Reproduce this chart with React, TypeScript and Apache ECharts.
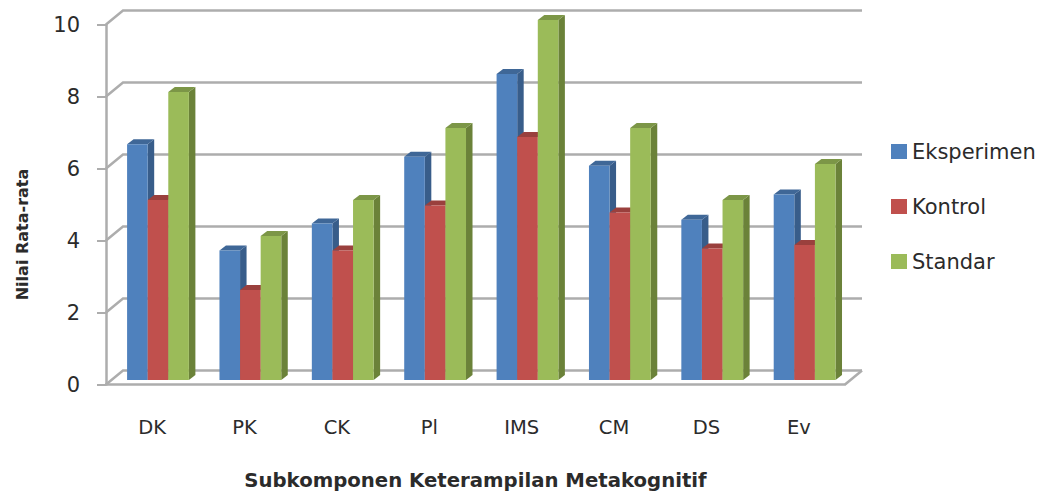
import React, { useEffect, useRef } from "react";
import * as echarts from "echarts";

const categories = ["DK", "PK", "CK", "Pl", "IMS", "CM", "DS", "Ev"];
const eksperimen = [6.55, 3.6, 4.35, 6.2, 8.5, 5.95, 4.45, 5.15];
const kontrol = [5.0, 2.5, 3.6, 4.85, 6.75, 4.65, 3.65, 3.75];
const standar = [8, 4, 5, 7, 10, 7, 5, 6];
const ticks = [0, 2, 4, 6, 8, 10];

const seriesNames = ["Eksperimen", "Kontrol", "Standar"];
const seriesValues = [eksperimen, kontrol, standar];
const frontColors = ["#4F81BD", "#C0504D", "#9BBB59"];
const sideColors = ["#385D8A", "#8C3A38", "#6B8239"];
const topColors = ["#3F6797", "#9A403D", "#7C9647"];

const FONT = "'DejaVu Sans', sans-serif";
const TEXT_COLOR = "#2B2B2B";
const GRID_COLOR = "#ADADAD";
const WALL_DX = 17;
const WALL_DY = -14;
const BAR_DX = 6.5;
const BAR_DY = -5;
const BAR_SHIFT_X = 5.8;
const BAR_SHIFT_Y = -4.5;
const BAR_RATIO = 0.223;

export default function App() {
  const ref = useRef<HTMLDivElement>(null);
  useEffect(() => {
    const chart = echarts.init(ref.current!, undefined, { renderer: "svg" });

    const wall = {
      type: "custom",
      silent: true,
      z: 1,
      data: ticks.map((t) => [0, t]),
      encode: { x: 0, y: 1 },
      renderItem: (params: any, api: any) => {
        const y = api.coord([0, api.value(1)])[1];
        const left = params.coordSys.x;
        const right = left + params.coordSys.width;
        const children: any[] = [
          {
            type: "polyline",
            shape: { points: [[left, y], [left + WALL_DX, y + WALL_DY], [right + WALL_DX, y + WALL_DY]] },
            style: { stroke: GRID_COLOR, lineWidth: 2.5, fill: "none" },
          },
        ];
        if (api.value(1) === 0) {
          children.push({
            type: "line",
            shape: { x1: right, y1: y, x2: right + WALL_DX, y2: y + WALL_DY },
            style: { stroke: GRID_COLOR, lineWidth: 2.5 },
          });
        }
        return { type: "group", children };
      },
    };

    const bars = seriesNames.map((name, s) => ({
      type: "custom",
      name,
      z: 3 + s,
      itemStyle: { color: frontColors[s] },
      data: seriesValues[s].map((v, i) => [i, v]),
      encode: { x: 0, y: 1 },
      renderItem: (_params: any, api: any) => {
        const band = api.size([1, 0])[0];
        const w = band * BAR_RATIO;
        const [cx, yTop] = api.coord([api.value(0), api.value(1)]);
        const yBase = api.coord([api.value(0), 0])[1] + BAR_SHIFT_Y;
        const top = yTop + BAR_SHIFT_Y;
        const x0 = cx + BAR_SHIFT_X - 1.5 * w + s * w;
        const x1 = x0 + w;
        return {
          type: "group",
          children: [
            {
              type: "polygon",
              shape: { points: [[x1, top], [x1 + BAR_DX, top + BAR_DY], [x1 + BAR_DX, yBase + BAR_DY], [x1, yBase]] },
              style: { fill: sideColors[s] },
            },
            {
              type: "polygon",
              shape: { points: [[x0, top], [x0 + BAR_DX, top + BAR_DY], [x1 + BAR_DX, top + BAR_DY], [x1, top]] },
              style: { fill: topColors[s] },
            },
            {
              type: "rect",
              shape: { x: x0, y: top, width: w, height: yBase - top },
              style: { fill: frontColors[s] },
            },
          ],
        };
      },
    }));

    chart.setOption({
      animation: false,
      backgroundColor: "#ffffff",
      grid: { left: 106, top: 24.5, width: 739, height: 360, outerBoundsMode: "none" },
      legend: {
        show: true,
        orient: "vertical",
        left: 891,
        top: 141,
        padding: 0,
        itemWidth: 16,
        itemHeight: 15,
        itemGap: 34,
        icon: "rect",
        data: seriesNames,
        textStyle: { fontFamily: FONT, fontSize: 21, color: TEXT_COLOR },
      },
      xAxis: {
        type: "category",
        data: categories,
        name: "Subkomponen Keterampilan Metakognitif",
        nameLocation: "middle",
        nameGap: 86,
        nameTextStyle: { fontFamily: FONT, fontSize: 19.7, fontWeight: "bold", color: TEXT_COLOR },
        axisLine: { show: true, lineStyle: { color: GRID_COLOR, width: 2.5 } },
        axisTick: { show: false },
        axisLabel: { fontFamily: FONT, fontSize: 19.5, color: TEXT_COLOR, margin: 33 },
      },
      yAxis: {
        type: "value",
        min: 0,
        max: 10,
        interval: 2,
        name: "Nilai Rata-rata",
        nameLocation: "middle",
        nameGap: 76,
        nameTextStyle: { fontFamily: FONT, fontSize: 16, fontWeight: "bold", color: TEXT_COLOR, padding: [0, 60, 0, 0] },
        axisLine: { show: true, lineStyle: { color: GRID_COLOR, width: 2.5 } },
        axisTick: { show: true, length: 9, lineStyle: { color: GRID_COLOR, width: 2 } },
        axisLabel: { fontFamily: FONT, fontSize: 21, color: TEXT_COLOR, margin: 26 },
        splitLine: { show: false },
      },
      series: [wall, ...bars],
    });
    return () => chart.dispose();
  }, []);
  return <div ref={ref} style={{ position: "fixed", left: 0, top: 0, width: 1043, height: 493 }} />;
}
